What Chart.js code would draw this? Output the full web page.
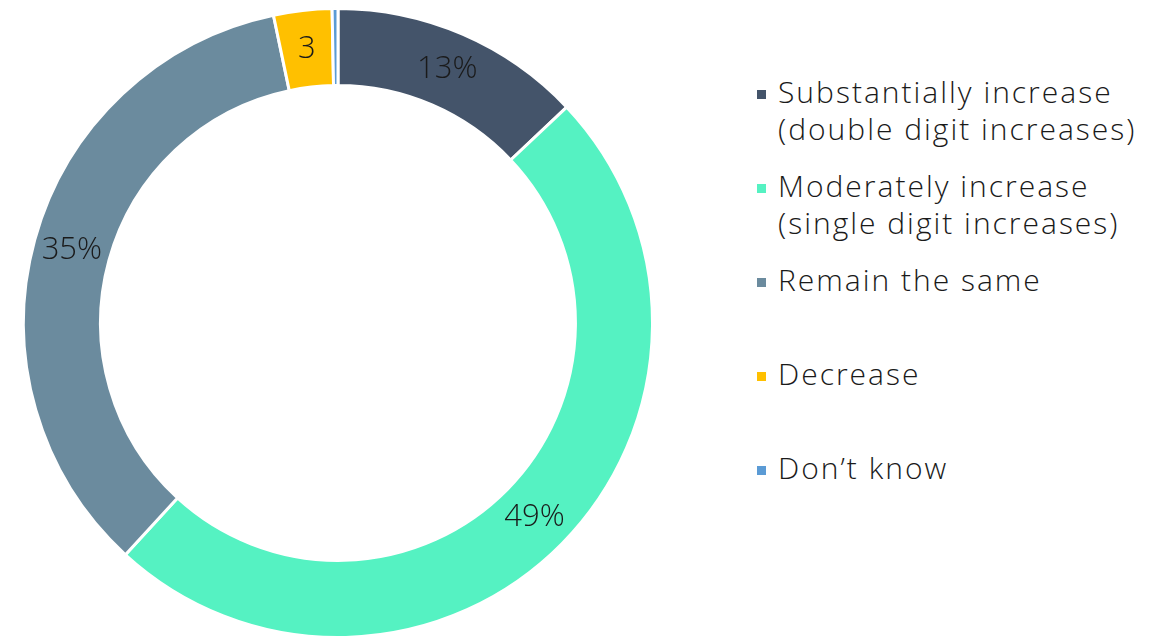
<!DOCTYPE html>
<html>
<head>
<meta charset="utf-8">
<script src="https://cdn.jsdelivr.net/npm/chart.js@4"></script>
<style>
  html, body { margin: 0; padding: 0; background: #ffffff; }
  body { width: 1158px; height: 638px; position: relative; overflow: hidden; font-family: "Open Sans", sans-serif; }
  #chartBox { position: absolute; left: 0; top: 0; width: 676px; height: 638px; }
  #legend { position: absolute; left: 0; top: 0; }
  .item { position: absolute; left: 757px; }
  .marker { position: absolute; left: 0; width: 9px; height: 9px; }
  .txt { position: absolute; left: 21px; white-space: nowrap; font-size: 30px; letter-spacing: 2px; line-height: 37px; color: #1a1a1a; font-weight: 300; }
</style>
</head>
<body>
<div id="chartBox"><canvas id="c"></canvas></div>
<div id="legend"></div>
<script>
const categories = [
  ["Substantially increase", "(double digit increases)"],
  ["Moderately increase", "(single digit increases)"],
  ["Remain the same"],
  ["Decrease"],
  ["Don\u2019t know"]
];
const values = [13, 49, 35, 3, 0.3];
const sliceLabels = ["13%", "49%", "35%", "3", ""];
const colors = ["#44546a", "#55f2c2", "#6b8b9e", "#ffc000", "#5b9bd5"];

const labelPlugin = {
  id: 'sliceLabels',
  afterDatasetsDraw(chart) {
    const ctx = chart.ctx;
    const meta = chart.getDatasetMeta(0);
    ctx.save();
    ctx.font = '300 31px "Open Sans", sans-serif';
    ctx.fillStyle = '#1a1a1a';
    ctx.textAlign = 'center';
    ctx.textBaseline = 'middle';
    meta.data.forEach((arc, i) => {
      const t = sliceLabels[i];
      if (!t) return;
      const p = arc.getCenterPoint();
      ctx.fillText(t, p.x, p.y);
    });
    ctx.restore();
  }
};

new Chart(document.getElementById('c'), {
  type: 'doughnut',
  data: {
    labels: categories.map(c => c.join(' ')),
    datasets: [{
      data: values,
      backgroundColor: colors,
      borderColor: '#ffffff',
      borderWidth: 3,
      hoverOffset: 0
    }]
  },
  options: {
    responsive: true,
    maintainAspectRatio: false,
    animation: false,
    radius: 314.5,
    cutout: '75.5%',
    layout: { padding: { top: 8, bottom: 0, left: 0, right: 0 } },
    plugins: {
      legend: { display: false },
      tooltip: { enabled: false }
    }
  },
  plugins: [labelPlugin]
});

// HTML legend built from the arrays
const legend = document.getElementById('legend');
categories.forEach((lines, i) => {
  const item = document.createElement('div');
  item.className = 'item';
  item.style.top = (73 + i * 94) + 'px';
  const m = document.createElement('div');
  m.className = 'marker';
  m.style.background = colors[i];
  m.style.top = '17px';
  item.appendChild(m);
  lines.forEach((ln, j) => {
    const t = document.createElement('div');
    t.className = 'txt';
    t.style.top = (j * 37) + 'px';
    t.textContent = ln;
    item.appendChild(t);
  });
  legend.appendChild(item);
});
</script>
</body>
</html>
